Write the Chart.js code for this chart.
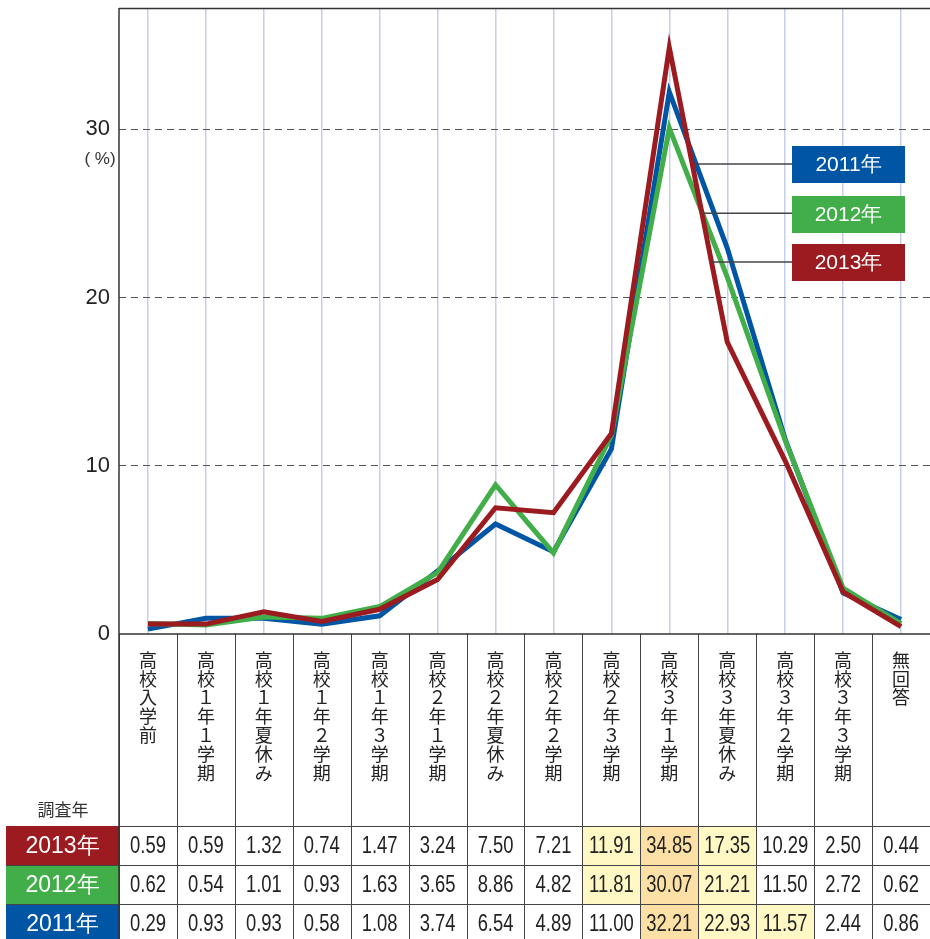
<!DOCTYPE html>
<html>
<head>
<meta charset="utf-8">
<script src="https://cdn.jsdelivr.net/npm/chart.js@4/dist/chart.umd.min.js"></script>
<style>
  html, body { margin: 0; padding: 0; background: #fff; }
  #wrap { width: 930px; height: 939px; }
</style>
</head>
<body>
<div id="wrap"><canvas id="plot" width="930" height="939"></canvas></div>
<script>
const categories = ["高校入学前", "高校１年１学期", "高校１年夏休み", "高校１年２学期", "高校１年３学期",
  "高校２年１学期", "高校２年夏休み", "高校２年２学期", "高校２年３学期", "高校３年１学期",
  "高校３年夏休み", "高校３年２学期", "高校３年３学期", "無回答"];
const years = ["2013年", "2012年", "2011年"];
const values2013 = [0.59, 0.59, 1.32, 0.74, 1.47, 3.24, 7.50, 7.21, 11.91, 34.85, 17.35, 10.29, 2.50, 0.44];
const values2012 = [0.62, 0.54, 1.01, 0.93, 1.63, 3.65, 8.86, 4.82, 11.81, 30.07, 21.21, 11.50, 2.72, 0.62];
const values2011 = [0.29, 0.93, 0.93, 0.58, 1.08, 3.74, 6.54, 4.89, 11.00, 32.21, 22.93, 11.57, 2.44, 0.86];
const yTicks = [0, 10, 20, 30];
const yMax = 37.2;
// value where each legend leader line meets its series (between 3年1学期 and 3年夏休み)
const leaderValues = [22.1, 25.0, 27.93];

const colors = ["#9b1b20", "#41ae4a", "#0055a5"];
const tableRows = [values2013, values2012, values2011];

const FONT = "'Liberation Sans', Arial, sans-serif";
const JFONT = "'Noto Sans CJK JP', sans-serif";

function toWide(s) {
  return s.replace(/[0-9]/g, (d) => String.fromCharCode(d.charCodeAt(0) + 0xfee0));
}

const tablePlugin = {
  id: "table_and_labels",
  afterDraw: (chart) => {
    const ctx = chart.ctx;
    const area = chart.chartArea;
    const xs = chart.scales.x;
    const ys = chart.scales.y;
    const colW = xs.getPixelForValue(1) - xs.getPixelForValue(0);
    const bounds = [];
    for (let i = 0; i <= categories.length; i++) {
      bounds.push(xs.getPixelForValue(0) - colW / 2 + i * colW);
    }
    const headTop = area.bottom;
    const headBottom = 826;
    const rowH = 39;
    const labelLeft = 6;
    const right = chart.width;

    ctx.save();
    // top border of plot
    ctx.strokeStyle = "#333";
    ctx.lineWidth = 1.5;
    ctx.beginPath();
    ctx.moveTo(area.left, area.top + 0.5);
    ctx.lineTo(right, area.top + 0.5);
    ctx.stroke();

    // (%) under 30
    ctx.fillStyle = "#333";
    ctx.font = "17px " + FONT;
    ctx.textAlign = "center";
    ctx.textBaseline = "middle";
    ctx.fillText("( %)", 100, ys.getPixelForValue(30) + 30);

    // highlight cells: top value orange, next two yellow
    tableRows.forEach((row, r) => {
      const sorted = row.slice().sort((a, b) => b - a);
      row.forEach((v, c) => {
        let fill = null;
        if (v === sorted[0]) fill = "#fde0a6";
        else if (v === sorted[1] || v === sorted[2]) fill = "#fff7c4";
        if (fill) {
          ctx.fillStyle = fill;
          ctx.fillRect(bounds[c], headBottom + r * rowH, colW, rowH);
        }
      });
      // year label cell
      ctx.fillStyle = colors[r];
      ctx.fillRect(labelLeft, headBottom + r * rowH, area.left - labelLeft, rowH);
    });

    // grid lines of table
    ctx.strokeStyle = "#444";
    ctx.lineWidth = 1;
    bounds.forEach((x) => {
      ctx.beginPath();
      ctx.moveTo(Math.round(x) + 0.5, headTop);
      ctx.lineTo(Math.round(x) + 0.5, chart.height);
      ctx.stroke();
    });
    for (let r = 0; r < tableRows.length; r++) {
      const y = Math.round(headBottom + r * rowH) + 0.5;
      ctx.beginPath();
      ctx.moveTo(r === 0 ? area.left : labelLeft, y);
      ctx.lineTo(right, y);
      ctx.stroke();
    }
    ctx.lineWidth = 1.5;
    ctx.strokeStyle = "#333";
    ctx.beginPath();
    ctx.moveTo(area.left, headTop);
    ctx.lineTo(right, headTop);
    ctx.stroke();
    ctx.beginPath();
    ctx.moveTo(area.left, area.top);
    ctx.lineTo(area.left, chart.height);
    ctx.stroke();

    // vertical header text
    ctx.fillStyle = "#222";
    ctx.font = "18px " + JFONT;
    ctx.textAlign = "center";
    ctx.textBaseline = "middle";
    categories.forEach((name, c) => {
      const cx = xs.getPixelForValue(c);
      Array.from(toWide(name)).forEach((ch, k) => {
        ctx.fillText(ch, cx, 660 + k * 18.8);
      });
    });
    ctx.font = "17px " + JFONT;
    ctx.fillStyle = "#333";
    ctx.fillText("調査年", 63, 810);

    // table values
    ctx.font = "23px " + FONT;
    tableRows.forEach((row, r) => {
      const cy = headBottom + r * rowH + rowH / 2 + 1;
      ctx.fillStyle = "#222";
      row.forEach((v, c) => {
        ctx.save();
        ctx.translate(xs.getPixelForValue(c), cy);
        ctx.scale(0.8, 1);
        ctx.fillText(v.toFixed(2), 0, 0);
        ctx.restore();
      });
      ctx.fillStyle = "#fff";
      ctx.fillText(years[r], (labelLeft + area.left) / 2, cy);
    });

    // legend boxes with leader lines
    const boxTops = [244, 196, 146];
    const boxLeft = 792, boxW = 113, boxH = 37;
    chart.data.datasets.forEach((ds, d) => {
      const meta = chart.getDatasetMeta(d);
      const p0 = meta.data[9], p1 = meta.data[10];
      const ly = ys.getPixelForValue(leaderValues[d]);
      const lx = p0.x + (p1.x - p0.x) * (ly - p0.y) / (p1.y - p0.y);
      const by = boxTops[d];
      ctx.strokeStyle = "#444";
      ctx.lineWidth = 1.5;
      ctx.beginPath();
      ctx.moveTo(lx, ly);
      ctx.lineTo(boxLeft, ly);
      ctx.stroke();
      ctx.fillStyle = colors[d];
      ctx.fillRect(boxLeft, by, boxW, boxH);
      ctx.fillStyle = "#fff";
      ctx.font = "21px " + FONT;
      ctx.fillText(ds.label, boxLeft + boxW / 2, by + boxH / 2 + 1);
    });
    ctx.restore();
  },
};

const canvas = document.getElementById("plot");
const chart = new Chart(canvas.getContext("2d"), {
  type: "line",
  plugins: [tablePlugin],
  data: {
    labels: categories,
    datasets: [
      { label: years[0], data: values2013, borderColor: colors[0] },
      { label: years[1], data: values2012, borderColor: colors[1] },
      { label: years[2], data: values2011, borderColor: colors[2] },
    ],
  },
  options: {
    responsive: false,
    devicePixelRatio: 1,
    animation: false,
    layout: { padding: { top: 8, right: 0, bottom: 305, left: 0 } },
    elements: {
      line: { borderWidth: 5, tension: 0, borderJoinStyle: "miter", fill: false },
      point: { radius: 0, hoverRadius: 0 },
    },
    plugins: { legend: { display: false }, tooltip: { enabled: false } },
    scales: {
      x: {
        type: "category",
        offset: true,
        ticks: { display: false },
        border: { display: false },
        grid: { color: "#c7cfe8", lineWidth: 1.5, drawTicks: false },
        afterFit: (scale) => {
          scale.height = 0;
          scale.paddingLeft = 0;
          scale.paddingRight = 0;
        },
      },
      y: {
        min: 0,
        max: yMax,
        afterBuildTicks: (scale) => { scale.ticks = yTicks.map((v) => ({ value: v })); },
        afterFit: (scale) => {
          scale.width = 119;
          scale.paddingTop = 0;
          scale.paddingBottom = 0;
        },
        border: { display: false, dash: [7, 5] },
        grid: {
          drawTicks: false,
          color: (c) => (c.tick && c.tick.value === 0 ? "rgba(0,0,0,0)" : "#555"),
          lineWidth: 1,
        },
        ticks: {
          color: "#222",
          padding: 9,
          font: { family: FONT, size: 22 },
        },
      },
    },
  },
});
</script>
</body>
</html>
